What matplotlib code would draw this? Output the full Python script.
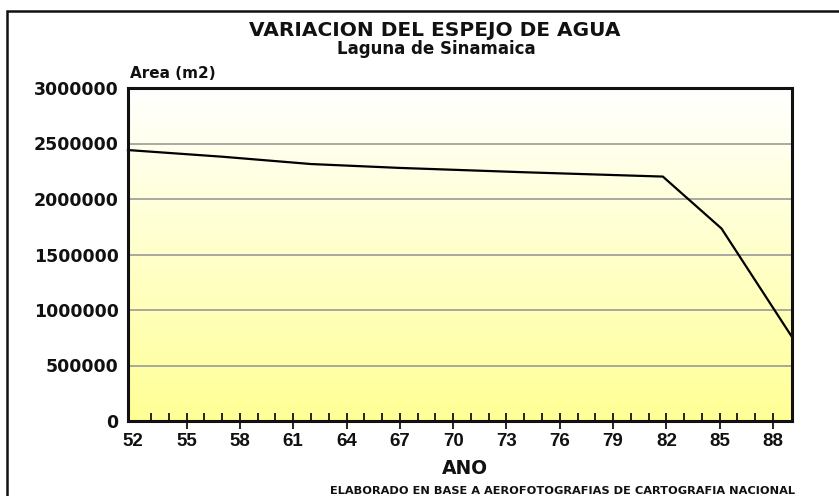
import numpy as np
import matplotlib
matplotlib.use("Agg")
import matplotlib.pyplot as plt
from matplotlib.colors import LinearSegmentedColormap
from matplotlib.patches import Rectangle

# Data
years = [51.7, 57, 62, 67, 74, 81.8, 85.1, 89.05]
area = [2441000, 2381000, 2315000, 2280000, 2241000, 2202000, 1734000, 761000]
xtick_years = list(range(52, 89, 3))
ytick_vals = [0, 500000, 1000000, 1500000, 2000000, 2500000, 3000000]

title = "VARIACION DEL ESPEJO DE AGUA"
subtitle = "Laguna de Sinamaica"
ylabel = "Area (m2)"
xlabel = "ANO"
footer = "ELABORADO EN BASE A AEROFOTOGRAFIAS DE CARTOGRAFIA NACIONAL"

plt.rcParams['font.family'] = ['DejaVu Sans']
W, H = 839, 496
fig = plt.figure(figsize=(W / 100, H / 100), dpi=100)
fig.patch.set_facecolor('white')

# outer frame (left and top edges visible)
fig.patches.append(Rectangle((7.3 / W, -0.05), 1.0, 1 - 11 / H + 0.05,
                             transform=fig.transFigure, fill=False,
                             edgecolor='#111111', linewidth=1.8))

ax = fig.add_axes([128.3 / W, 1 - 421 / H, (791.7 - 128.3) / W, (421 - 88) / H])
xmin, xmax = 51.72, 89.05
ymin, ymax = 0, 3000000

cmap = LinearSegmentedColormap.from_list('bg', ['#ffffff', '#ffff96'])
grad = np.linspace(1, 0, 256).reshape(-1, 1)
ax.imshow(grad, extent=[xmin, xmax, ymin, ymax], aspect='auto', cmap=cmap,
          origin='lower', zorder=0, vmin=0, vmax=1)
ax.set_xlim(xmin, xmax)
ax.set_ylim(ymin, ymax)

for v in ytick_vals[1:-1]:
    ax.axhline(v, color='#9a9a9a', linewidth=1.2, zorder=1)

ax.plot(years, area, color='black', linewidth=1.6, zorder=3, clip_on=False)

for s in ax.spines.values():
    s.set_linewidth(2.2)
    s.set_color('#111111')
    s.set_zorder(5)

ax.set_yticks(ytick_vals)
ax.set_yticklabels([str(v) for v in ytick_vals], fontsize=12.5, fontweight='bold',
                   color='#111111')
ax.tick_params(axis='y', length=0, pad=7)

ax.set_xticks(xtick_years)
ax.set_xticklabels([str(y) for y in xtick_years], fontsize=13.5, fontweight='bold',
                   family='Liberation Sans', color='#111111')
ax.set_xticks([y for y in range(53, 89) if y not in xtick_years], minor=True)
ax.tick_params(axis='x', which='major', direction='inout', length=11, width=1.2, pad=3)
ax.tick_params(axis='x', which='minor', direction='in', length=6, width=1.2)
ax.xaxis.get_major_ticks()[0].tick1line.set_visible(False)

fig.text(434.5 / W, 1 - 30 / H, title, ha='center', va='center', fontsize=14.5, fontweight='bold', color='#111111')
fig.text(436.5 / W, 1 - 49 / H, subtitle, ha='center', va='center', fontsize=12, fontweight='bold', color='#111111')
fig.text(130 / W, 1 - 74 / H, ylabel, ha='left', va='center', fontsize=11, fontweight='bold', color='#111111')
fig.text(465 / W, 1 - 468 / H, xlabel, ha='center', va='center', fontsize=13.5, fontweight='bold', color='#111111')
fig.text(562 / W, 1 - 490.5 / H, footer, ha='center', va='center', fontsize=8.2, fontweight='bold', color='#111111')

fig.savefig('out.png', dpi=100)
